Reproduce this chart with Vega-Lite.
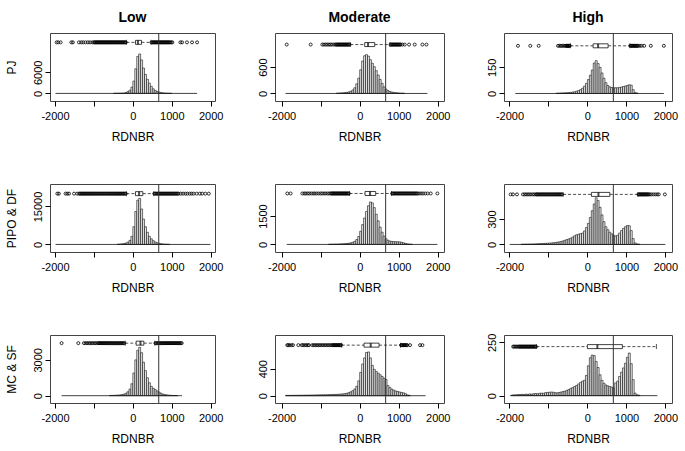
{
"$schema": "https://vega.github.io/schema/vega-lite/v6.json",
"padding": {"left": 4, "top": 10, "right": 5, "bottom": 5},
"background": "white",
"datasets": {
"s": [
{"g":"a","lo":-1985,"hi":1650,"wlo":-165,"q1":68,"med":130,"q3":222,"whi":465,"t":665},
{"g":"b","lo":-1900,"hi":1735,"wlo":-240,"q1":128,"med":214,"q3":385,"whi":775,"t":665},
{"g":"c","lo":-1850,"hi":1961,"wlo":-437,"q1":146,"med":274,"q3":531,"whi":1088,"t":665},
{"g":"d","lo":-1985,"hi":1990,"wlo":-165,"q1":68,"med":160,"q3":256,"whi":535,"t":665},
{"g":"e","lo":-1870,"hi":1990,"wlo":-260,"q1":137,"med":265,"q3":410,"whi":815,"t":665},
{"g":"f","lo":-1995,"hi":2000,"wlo":-625,"q1":103,"med":283,"q3":574,"whi":1295,"t":665},
{"g":"g","lo":-1830,"hi":1262,"wlo":-195,"q1":85,"med":196,"q3":282,"whi":563,"t":665},
{"g":"h","lo":-1900,"hi":1690,"wlo":-460,"q1":111,"med":282,"q3":496,"whi":1045,"t":665},
{"g":"i","lo":-1983,"hi":1795,"wlo":-1308,"q1":0,"med":256,"q3":897,"whi":1770,"t":665}
],
"h": [
{"g":"a","b":-500,"e":-450,"n":15},{"g":"a","b":-450,"e":-400,"n":25},{"g":"a","b":-400,"e":-350,"n":35},{"g":"a","b":-350,"e":-300,"n":50},{"g":"a","b":-300,"e":-250,"n":70},{"g":"a","b":-250,"e":-200,"n":100},{"g":"a","b":-200,"e":-150,"n":250},{"g":"a","b":-150,"e":-100,"n":500},{"g":"a","b":-100,"e":-50,"n":900},{"g":"a","b":-50,"e":0,"n":1800},{"g":"a","b":0,"e":50,"n":3500},{"g":"a","b":50,"e":100,"n":7000},{"g":"a","b":100,"e":150,"n":10500},{"g":"a","b":150,"e":200,"n":11200},{"g":"a","b":200,"e":250,"n":9500},{"g":"a","b":250,"e":300,"n":7200},{"g":"a","b":300,"e":350,"n":5400},{"g":"a","b":350,"e":400,"n":4000},{"g":"a","b":400,"e":450,"n":2900},{"g":"a","b":450,"e":500,"n":2000},{"g":"a","b":500,"e":550,"n":1300},{"g":"a","b":550,"e":600,"n":850},{"g":"a","b":600,"e":650,"n":550},{"g":"a","b":650,"e":700,"n":350},{"g":"a","b":700,"e":750,"n":220},{"g":"a","b":750,"e":800,"n":140},{"g":"a","b":800,"e":850,"n":90},{"g":"a","b":850,"e":900,"n":55},{"g":"a","b":900,"e":950,"n":35},{"g":"a","b":950,"e":1000,"n":20},
{"g":"b","b":-600,"e":-550,"n":8},{"g":"b","b":-550,"e":-500,"n":10},{"g":"b","b":-500,"e":-450,"n":12},{"g":"b","b":-450,"e":-400,"n":15},{"g":"b","b":-400,"e":-350,"n":20},{"g":"b","b":-350,"e":-300,"n":25},{"g":"b","b":-300,"e":-250,"n":35},{"g":"b","b":-250,"e":-200,"n":50},{"g":"b","b":-200,"e":-150,"n":80},{"g":"b","b":-150,"e":-100,"n":130},{"g":"b","b":-100,"e":-50,"n":220},{"g":"b","b":-50,"e":0,"n":350},{"g":"b","b":0,"e":50,"n":540},{"g":"b","b":50,"e":100,"n":740},{"g":"b","b":100,"e":150,"n":860},{"g":"b","b":150,"e":200,"n":885},{"g":"b","b":200,"e":250,"n":850},{"g":"b","b":250,"e":300,"n":770},{"g":"b","b":300,"e":350,"n":690},{"g":"b","b":350,"e":400,"n":610},{"g":"b","b":400,"e":450,"n":520},{"g":"b","b":450,"e":500,"n":420},{"g":"b","b":500,"e":550,"n":320},{"g":"b","b":550,"e":600,"n":230},{"g":"b","b":600,"e":650,"n":150},{"g":"b","b":650,"e":700,"n":100},{"g":"b","b":700,"e":750,"n":65},{"g":"b","b":750,"e":800,"n":45},{"g":"b","b":800,"e":850,"n":32},{"g":"b","b":850,"e":900,"n":24},{"g":"b","b":900,"e":950,"n":18},{"g":"b","b":950,"e":1000,"n":13},{"g":"b","b":1000,"e":1050,"n":10},{"g":"b","b":1050,"e":1100,"n":7},{"g":"b","b":1100,"e":1150,"n":5},
{"g":"c","b":-800,"e":-750,"n":2},{"g":"c","b":-750,"e":-700,"n":2},{"g":"c","b":-700,"e":-650,"n":3},{"g":"c","b":-650,"e":-600,"n":3},{"g":"c","b":-600,"e":-550,"n":4},{"g":"c","b":-550,"e":-500,"n":4},{"g":"c","b":-500,"e":-450,"n":5},{"g":"c","b":-450,"e":-400,"n":6},{"g":"c","b":-400,"e":-350,"n":8},{"g":"c","b":-350,"e":-300,"n":10},{"g":"c","b":-300,"e":-250,"n":13},{"g":"c","b":-250,"e":-200,"n":17},{"g":"c","b":-200,"e":-150,"n":22},{"g":"c","b":-150,"e":-100,"n":30},{"g":"c","b":-100,"e":-50,"n":42},{"g":"c","b":-50,"e":0,"n":58},{"g":"c","b":0,"e":50,"n":80},{"g":"c","b":50,"e":100,"n":105},{"g":"c","b":100,"e":150,"n":135},{"g":"c","b":150,"e":200,"n":175},{"g":"c","b":200,"e":250,"n":189},{"g":"c","b":250,"e":300,"n":172},{"g":"c","b":300,"e":350,"n":150},{"g":"c","b":350,"e":400,"n":118},{"g":"c","b":400,"e":450,"n":88},{"g":"c","b":450,"e":500,"n":62},{"g":"c","b":500,"e":550,"n":46},{"g":"c","b":550,"e":600,"n":38},{"g":"c","b":600,"e":650,"n":35},{"g":"c","b":650,"e":700,"n":33},{"g":"c","b":700,"e":750,"n":33},{"g":"c","b":750,"e":800,"n":33},{"g":"c","b":800,"e":850,"n":35},{"g":"c","b":850,"e":900,"n":37},{"g":"c","b":900,"e":950,"n":40},{"g":"c","b":950,"e":1000,"n":43},{"g":"c","b":1000,"e":1050,"n":46},{"g":"c","b":1050,"e":1100,"n":50},{"g":"c","b":1100,"e":1150,"n":48},{"g":"c","b":1150,"e":1200,"n":22},{"g":"c","b":1200,"e":1250,"n":6},{"g":"c","b":1250,"e":1300,"n":2},
{"g":"d","b":-400,"e":-350,"n":100},{"g":"d","b":-350,"e":-300,"n":150},{"g":"d","b":-300,"e":-250,"n":230},{"g":"d","b":-250,"e":-200,"n":350},{"g":"d","b":-200,"e":-150,"n":550},{"g":"d","b":-150,"e":-100,"n":900},{"g":"d","b":-100,"e":-50,"n":1600},{"g":"d","b":-50,"e":0,"n":3200},{"g":"d","b":0,"e":50,"n":7000},{"g":"d","b":50,"e":100,"n":13000},{"g":"d","b":100,"e":150,"n":17500},{"g":"d","b":150,"e":200,"n":18200},{"g":"d","b":200,"e":250,"n":14000},{"g":"d","b":250,"e":300,"n":10000},{"g":"d","b":300,"e":350,"n":7000},{"g":"d","b":350,"e":400,"n":4800},{"g":"d","b":400,"e":450,"n":3200},{"g":"d","b":450,"e":500,"n":2200},{"g":"d","b":500,"e":550,"n":1500},{"g":"d","b":550,"e":600,"n":1000},{"g":"d","b":600,"e":650,"n":650},{"g":"d","b":650,"e":700,"n":420},{"g":"d","b":700,"e":750,"n":280},{"g":"d","b":750,"e":800,"n":180},{"g":"d","b":800,"e":850,"n":120},{"g":"d","b":850,"e":900,"n":80},{"g":"d","b":900,"e":950,"n":50},
{"g":"e","b":-800,"e":-750,"n":10},{"g":"e","b":-750,"e":-700,"n":12},{"g":"e","b":-700,"e":-650,"n":14},{"g":"e","b":-650,"e":-600,"n":17},{"g":"e","b":-600,"e":-550,"n":20},{"g":"e","b":-550,"e":-500,"n":24},{"g":"e","b":-500,"e":-450,"n":28},{"g":"e","b":-450,"e":-400,"n":33},{"g":"e","b":-400,"e":-350,"n":40},{"g":"e","b":-350,"e":-300,"n":50},{"g":"e","b":-300,"e":-250,"n":65},{"g":"e","b":-250,"e":-200,"n":85},{"g":"e","b":-200,"e":-150,"n":115},{"g":"e","b":-150,"e":-100,"n":165},{"g":"e","b":-100,"e":-50,"n":260},{"g":"e","b":-50,"e":0,"n":420},{"g":"e","b":0,"e":50,"n":700},{"g":"e","b":50,"e":100,"n":1050},{"g":"e","b":100,"e":150,"n":1400},{"g":"e","b":150,"e":200,"n":1750},{"g":"e","b":200,"e":250,"n":2050},{"g":"e","b":250,"e":300,"n":2250},{"g":"e","b":300,"e":350,"n":2200},{"g":"e","b":350,"e":400,"n":1950},{"g":"e","b":400,"e":450,"n":1600},{"g":"e","b":450,"e":500,"n":1250},{"g":"e","b":500,"e":550,"n":920},{"g":"e","b":550,"e":600,"n":650},{"g":"e","b":600,"e":650,"n":440},{"g":"e","b":650,"e":700,"n":300},{"g":"e","b":700,"e":750,"n":220},{"g":"e","b":750,"e":800,"n":180},{"g":"e","b":800,"e":850,"n":160},{"g":"e","b":850,"e":900,"n":150},{"g":"e","b":900,"e":950,"n":145},{"g":"e","b":950,"e":1000,"n":140},{"g":"e","b":1000,"e":1050,"n":135},{"g":"e","b":1050,"e":1100,"n":115},{"g":"e","b":1100,"e":1150,"n":85},{"g":"e","b":1150,"e":1200,"n":55},{"g":"e","b":1200,"e":1250,"n":30},{"g":"e","b":1250,"e":1300,"n":18},{"g":"e","b":1300,"e":1350,"n":10},
{"g":"f","b":-1700,"e":-1650,"n":3},{"g":"f","b":-1650,"e":-1600,"n":3},{"g":"f","b":-1600,"e":-1550,"n":4},{"g":"f","b":-1550,"e":-1500,"n":4},{"g":"f","b":-1500,"e":-1450,"n":5},{"g":"f","b":-1450,"e":-1400,"n":5},{"g":"f","b":-1400,"e":-1350,"n":6},{"g":"f","b":-1350,"e":-1300,"n":7},{"g":"f","b":-1300,"e":-1250,"n":8},{"g":"f","b":-1250,"e":-1200,"n":10},{"g":"f","b":-1200,"e":-1150,"n":11},{"g":"f","b":-1150,"e":-1100,"n":12},{"g":"f","b":-1100,"e":-1050,"n":13},{"g":"f","b":-1050,"e":-1000,"n":14},{"g":"f","b":-1000,"e":-950,"n":16},{"g":"f","b":-950,"e":-900,"n":18},{"g":"f","b":-900,"e":-850,"n":20},{"g":"f","b":-850,"e":-800,"n":23},{"g":"f","b":-800,"e":-750,"n":27},{"g":"f","b":-750,"e":-700,"n":30},{"g":"f","b":-700,"e":-650,"n":35},{"g":"f","b":-650,"e":-600,"n":42},{"g":"f","b":-600,"e":-550,"n":50},{"g":"f","b":-550,"e":-500,"n":58},{"g":"f","b":-500,"e":-450,"n":66},{"g":"f","b":-450,"e":-400,"n":75},{"g":"f","b":-400,"e":-350,"n":88},{"g":"f","b":-350,"e":-300,"n":103},{"g":"f","b":-300,"e":-250,"n":115},{"g":"f","b":-250,"e":-200,"n":122},{"g":"f","b":-200,"e":-150,"n":128},{"g":"f","b":-150,"e":-100,"n":135},{"g":"f","b":-100,"e":-50,"n":160},{"g":"f","b":-50,"e":0,"n":200},{"g":"f","b":0,"e":50,"n":250},{"g":"f","b":50,"e":100,"n":320},{"g":"f","b":100,"e":150,"n":400},{"g":"f","b":150,"e":200,"n":480},{"g":"f","b":200,"e":250,"n":553},{"g":"f","b":250,"e":300,"n":520},{"g":"f","b":300,"e":350,"n":440},{"g":"f","b":350,"e":400,"n":350},{"g":"f","b":400,"e":450,"n":270},{"g":"f","b":450,"e":500,"n":210},{"g":"f","b":500,"e":550,"n":175},{"g":"f","b":550,"e":600,"n":145},{"g":"f","b":600,"e":650,"n":125},{"g":"f","b":650,"e":700,"n":110},{"g":"f","b":700,"e":750,"n":100},{"g":"f","b":750,"e":800,"n":110},{"g":"f","b":800,"e":850,"n":135},{"g":"f","b":850,"e":900,"n":165},{"g":"f","b":900,"e":950,"n":190},{"g":"f","b":950,"e":1000,"n":210},{"g":"f","b":1000,"e":1050,"n":225},{"g":"f","b":1050,"e":1100,"n":222},{"g":"f","b":1100,"e":1150,"n":165},{"g":"f","b":1150,"e":1200,"n":70},{"g":"f","b":1200,"e":1250,"n":18},{"g":"f","b":1250,"e":1300,"n":6},{"g":"f","b":1300,"e":1350,"n":3},
{"g":"g","b":-600,"e":-550,"n":20},{"g":"g","b":-550,"e":-500,"n":25},{"g":"g","b":-500,"e":-450,"n":30},{"g":"g","b":-450,"e":-400,"n":40},{"g":"g","b":-400,"e":-350,"n":50},{"g":"g","b":-350,"e":-300,"n":65},{"g":"g","b":-300,"e":-250,"n":90},{"g":"g","b":-250,"e":-200,"n":130},{"g":"g","b":-200,"e":-150,"n":200},{"g":"g","b":-150,"e":-100,"n":330},{"g":"g","b":-100,"e":-50,"n":550},{"g":"g","b":-50,"e":0,"n":1000},{"g":"g","b":0,"e":50,"n":1900},{"g":"g","b":50,"e":100,"n":3000},{"g":"g","b":100,"e":150,"n":3800},{"g":"g","b":150,"e":200,"n":4040},{"g":"g","b":200,"e":250,"n":3600},{"g":"g","b":250,"e":300,"n":2800},{"g":"g","b":300,"e":350,"n":2100},{"g":"g","b":350,"e":400,"n":1500},{"g":"g","b":400,"e":450,"n":1080},{"g":"g","b":450,"e":500,"n":780},{"g":"g","b":500,"e":550,"n":620},{"g":"g","b":550,"e":600,"n":510},{"g":"g","b":600,"e":650,"n":400},{"g":"g","b":650,"e":700,"n":300},{"g":"g","b":700,"e":750,"n":200},{"g":"g","b":750,"e":800,"n":130},{"g":"g","b":800,"e":850,"n":90},{"g":"g","b":850,"e":900,"n":65},{"g":"g","b":900,"e":950,"n":45},{"g":"g","b":950,"e":1000,"n":30},{"g":"g","b":1000,"e":1050,"n":20},{"g":"g","b":1050,"e":1100,"n":14},{"g":"g","b":1100,"e":1150,"n":10},
{"g":"h","b":-1900,"e":-1850,"n":4},{"g":"h","b":-1850,"e":-1800,"n":5},{"g":"h","b":-1800,"e":-1750,"n":4},{"g":"h","b":-1750,"e":-1700,"n":5},{"g":"h","b":-1700,"e":-1650,"n":6},{"g":"h","b":-1650,"e":-1600,"n":5},{"g":"h","b":-1600,"e":-1550,"n":6},{"g":"h","b":-1550,"e":-1500,"n":7},{"g":"h","b":-1500,"e":-1450,"n":6},{"g":"h","b":-1450,"e":-1400,"n":8},{"g":"h","b":-1400,"e":-1350,"n":9},{"g":"h","b":-1350,"e":-1300,"n":8},{"g":"h","b":-1300,"e":-1250,"n":9},{"g":"h","b":-1250,"e":-1200,"n":10},{"g":"h","b":-1200,"e":-1150,"n":10},{"g":"h","b":-1150,"e":-1100,"n":11},{"g":"h","b":-1100,"e":-1050,"n":12},{"g":"h","b":-1050,"e":-1000,"n":12},{"g":"h","b":-1000,"e":-950,"n":13},{"g":"h","b":-950,"e":-900,"n":14},{"g":"h","b":-900,"e":-850,"n":14},{"g":"h","b":-850,"e":-800,"n":15},{"g":"h","b":-800,"e":-750,"n":16},{"g":"h","b":-750,"e":-700,"n":17},{"g":"h","b":-700,"e":-650,"n":18},{"g":"h","b":-650,"e":-600,"n":19},{"g":"h","b":-600,"e":-550,"n":20},{"g":"h","b":-550,"e":-500,"n":22},{"g":"h","b":-500,"e":-450,"n":24},{"g":"h","b":-450,"e":-400,"n":27},{"g":"h","b":-400,"e":-350,"n":30},{"g":"h","b":-350,"e":-300,"n":36},{"g":"h","b":-300,"e":-250,"n":45},{"g":"h","b":-250,"e":-200,"n":58},{"g":"h","b":-200,"e":-150,"n":75},{"g":"h","b":-150,"e":-100,"n":100},{"g":"h","b":-100,"e":-50,"n":140},{"g":"h","b":-50,"e":0,"n":220},{"g":"h","b":0,"e":50,"n":345},{"g":"h","b":50,"e":100,"n":470},{"g":"h","b":100,"e":150,"n":560},{"g":"h","b":150,"e":200,"n":640},{"g":"h","b":200,"e":250,"n":648},{"g":"h","b":250,"e":300,"n":560},{"g":"h","b":300,"e":350,"n":450},{"g":"h","b":350,"e":400,"n":390},{"g":"h","b":400,"e":450,"n":360},{"g":"h","b":450,"e":500,"n":335},{"g":"h","b":500,"e":550,"n":310},{"g":"h","b":550,"e":600,"n":285},{"g":"h","b":600,"e":650,"n":260},{"g":"h","b":650,"e":700,"n":240},{"g":"h","b":700,"e":750,"n":150},{"g":"h","b":750,"e":800,"n":120},{"g":"h","b":800,"e":850,"n":97},{"g":"h","b":850,"e":900,"n":82},{"g":"h","b":900,"e":950,"n":70},{"g":"h","b":950,"e":1000,"n":62},{"g":"h","b":1000,"e":1050,"n":55},{"g":"h","b":1050,"e":1100,"n":48},{"g":"h","b":1100,"e":1150,"n":42},{"g":"h","b":1150,"e":1200,"n":30},{"g":"h","b":1200,"e":1250,"n":12},{"g":"h","b":1250,"e":1300,"n":4},
{"g":"i","b":-1950,"e":-1900,"n":3},{"g":"i","b":-1900,"e":-1850,"n":4},{"g":"i","b":-1850,"e":-1800,"n":4},{"g":"i","b":-1800,"e":-1750,"n":5},{"g":"i","b":-1750,"e":-1700,"n":5},{"g":"i","b":-1700,"e":-1650,"n":6},{"g":"i","b":-1650,"e":-1600,"n":5},{"g":"i","b":-1600,"e":-1550,"n":7},{"g":"i","b":-1550,"e":-1500,"n":6},{"g":"i","b":-1500,"e":-1450,"n":8},{"g":"i","b":-1450,"e":-1400,"n":7},{"g":"i","b":-1400,"e":-1350,"n":9},{"g":"i","b":-1350,"e":-1300,"n":10},{"g":"i","b":-1300,"e":-1250,"n":9},{"g":"i","b":-1250,"e":-1200,"n":11},{"g":"i","b":-1200,"e":-1150,"n":12},{"g":"i","b":-1150,"e":-1100,"n":11},{"g":"i","b":-1100,"e":-1050,"n":14},{"g":"i","b":-1050,"e":-1000,"n":15},{"g":"i","b":-1000,"e":-950,"n":16},{"g":"i","b":-950,"e":-900,"n":17},{"g":"i","b":-900,"e":-850,"n":16},{"g":"i","b":-850,"e":-800,"n":14},{"g":"i","b":-800,"e":-750,"n":13},{"g":"i","b":-750,"e":-700,"n":15},{"g":"i","b":-700,"e":-650,"n":17},{"g":"i","b":-650,"e":-600,"n":19},{"g":"i","b":-600,"e":-550,"n":21},{"g":"i","b":-550,"e":-500,"n":25},{"g":"i","b":-500,"e":-450,"n":29},{"g":"i","b":-450,"e":-400,"n":34},{"g":"i","b":-400,"e":-350,"n":38},{"g":"i","b":-350,"e":-300,"n":43},{"g":"i","b":-300,"e":-250,"n":48},{"g":"i","b":-250,"e":-200,"n":55},{"g":"i","b":-200,"e":-150,"n":62},{"g":"i","b":-150,"e":-100,"n":68},{"g":"i","b":-100,"e":-50,"n":72},{"g":"i","b":-50,"e":0,"n":95},{"g":"i","b":0,"e":50,"n":140},{"g":"i","b":50,"e":100,"n":178},{"g":"i","b":100,"e":150,"n":190},{"g":"i","b":150,"e":200,"n":188},{"g":"i","b":200,"e":250,"n":160},{"g":"i","b":250,"e":300,"n":132},{"g":"i","b":300,"e":350,"n":98},{"g":"i","b":350,"e":400,"n":72},{"g":"i","b":400,"e":450,"n":58},{"g":"i","b":450,"e":500,"n":50},{"g":"i","b":500,"e":550,"n":46},{"g":"i","b":550,"e":600,"n":43},{"g":"i","b":600,"e":650,"n":40},{"g":"i","b":650,"e":700,"n":36},{"g":"i","b":700,"e":750,"n":60},{"g":"i","b":750,"e":800,"n":68},{"g":"i","b":800,"e":850,"n":90},{"g":"i","b":850,"e":900,"n":110},{"g":"i","b":900,"e":950,"n":130},{"g":"i","b":950,"e":1000,"n":152},{"g":"i","b":1000,"e":1050,"n":180},{"g":"i","b":1050,"e":1100,"n":200},{"g":"i","b":1100,"e":1150,"n":150},{"g":"i","b":1150,"e":1200,"n":75},{"g":"i","b":1200,"e":1250,"n":12},{"g":"i","b":1250,"e":1300,"n":4},{"g":"i","b":1300,"e":1350,"n":2}
],
"o": [
{"g":"a","x":-1957},{"g":"a","x":-1915},{"g":"a","x":-1855},{"g":"a","x":-1580},{"g":"a","x":-1540},{"g":"a","x":-1385},{"g":"a","x":-1325},{"g":"a","x":-1275},{"g":"a","x":-1215},{"g":"a","x":-1155},{"g":"a","x":-1100},{"g":"a","x":-1040},{"g":"a","x":-1000},{"g":"a","x":-980},{"g":"a","x":-960},{"g":"a","x":-940},{"g":"a","x":-920},{"g":"a","x":-900},{"g":"a","x":-880},{"g":"a","x":-860},{"g":"a","x":-840},{"g":"a","x":-820},{"g":"a","x":-800},{"g":"a","x":-780},{"g":"a","x":-760},{"g":"a","x":-740},{"g":"a","x":-720},{"g":"a","x":-700},{"g":"a","x":-680},{"g":"a","x":-660},{"g":"a","x":-640},{"g":"a","x":-620},{"g":"a","x":-600},{"g":"a","x":-580},{"g":"a","x":-560},{"g":"a","x":-540},{"g":"a","x":-520},{"g":"a","x":-500},{"g":"a","x":-480},{"g":"a","x":-460},{"g":"a","x":-440},{"g":"a","x":-420},{"g":"a","x":-400},{"g":"a","x":-380},{"g":"a","x":-360},{"g":"a","x":-340},{"g":"a","x":-320},{"g":"a","x":-300},{"g":"a","x":-280},{"g":"a","x":-260},{"g":"a","x":-240},{"g":"a","x":-220},{"g":"a","x":-200},{"g":"a","x":-180},{"g":"a","x":480},{"g":"a","x":500},{"g":"a","x":520},{"g":"a","x":540},{"g":"a","x":560},{"g":"a","x":580},{"g":"a","x":600},{"g":"a","x":620},{"g":"a","x":640},{"g":"a","x":660},{"g":"a","x":680},{"g":"a","x":700},{"g":"a","x":720},{"g":"a","x":740},{"g":"a","x":760},{"g":"a","x":780},{"g":"a","x":800},{"g":"a","x":820},{"g":"a","x":840},{"g":"a","x":860},{"g":"a","x":880},{"g":"a","x":900},{"g":"a","x":920},{"g":"a","x":940},{"g":"a","x":960},{"g":"a","x":990},{"g":"a","x":1015},{"g":"a","x":1220},{"g":"a","x":1265},{"g":"a","x":1390},{"g":"a","x":1520},{"g":"a","x":1650},
{"g":"b","x":-1870},{"g":"b","x":-1256},{"g":"b","x":-957},{"g":"b","x":-915},{"g":"b","x":-870},{"g":"b","x":-830},{"g":"b","x":-790},{"g":"b","x":-750},{"g":"b","x":-710},{"g":"b","x":-660},{"g":"b","x":-620},{"g":"b","x":-600},{"g":"b","x":-580},{"g":"b","x":-560},{"g":"b","x":-540},{"g":"b","x":-520},{"g":"b","x":-500},{"g":"b","x":-480},{"g":"b","x":-460},{"g":"b","x":-440},{"g":"b","x":-420},{"g":"b","x":-400},{"g":"b","x":-380},{"g":"b","x":-360},{"g":"b","x":-340},{"g":"b","x":-320},{"g":"b","x":-300},{"g":"b","x":-280},{"g":"b","x":-260},{"g":"b","x":790},{"g":"b","x":810},{"g":"b","x":830},{"g":"b","x":850},{"g":"b","x":870},{"g":"b","x":890},{"g":"b","x":910},{"g":"b","x":930},{"g":"b","x":950},{"g":"b","x":970},{"g":"b","x":990},{"g":"b","x":1010},{"g":"b","x":1030},{"g":"b","x":1050},{"g":"b","x":1094},{"g":"b","x":1154},{"g":"b","x":1265},{"g":"b","x":1410},{"g":"b","x":1607},{"g":"b","x":1710},
{"g":"c","x":-1782},{"g":"c","x":-1465},{"g":"c","x":-1250},{"g":"c","x":-754},{"g":"c","x":-715},{"g":"c","x":-680},{"g":"c","x":-645},{"g":"c","x":-610},{"g":"c","x":-575},{"g":"c","x":-545},{"g":"c","x":-530},{"g":"c","x":-515},{"g":"c","x":-500},{"g":"c","x":-485},{"g":"c","x":-470},{"g":"c","x":-455},{"g":"c","x":1100},{"g":"c","x":1120},{"g":"c","x":1140},{"g":"c","x":1160},{"g":"c","x":1180},{"g":"c","x":1200},{"g":"c","x":1220},{"g":"c","x":1240},{"g":"c","x":1260},{"g":"c","x":1280},{"g":"c","x":1300},{"g":"c","x":1345},{"g":"c","x":1390},{"g":"c","x":1456},{"g":"c","x":1627},{"g":"c","x":1961},
{"g":"d","x":-1940},{"g":"d","x":-1900},{"g":"d","x":-1727},{"g":"d","x":-1685},{"g":"d","x":-1640},{"g":"d","x":-1510},{"g":"d","x":-1430},{"g":"d","x":-1380},{"g":"d","x":-1355},{"g":"d","x":-1330},{"g":"d","x":-1305},{"g":"d","x":-1280},{"g":"d","x":-1255},{"g":"d","x":-1230},{"g":"d","x":-1205},{"g":"d","x":-1180},{"g":"d","x":-1155},{"g":"d","x":-1130},{"g":"d","x":-1105},{"g":"d","x":-1080},{"g":"d","x":-1055},{"g":"d","x":-1030},{"g":"d","x":-1005},{"g":"d","x":-980},{"g":"d","x":-955},{"g":"d","x":-930},{"g":"d","x":-905},{"g":"d","x":-880},{"g":"d","x":-855},{"g":"d","x":-830},{"g":"d","x":-805},{"g":"d","x":-780},{"g":"d","x":-755},{"g":"d","x":-730},{"g":"d","x":-705},{"g":"d","x":-680},{"g":"d","x":-655},{"g":"d","x":-630},{"g":"d","x":-605},{"g":"d","x":-580},{"g":"d","x":-555},{"g":"d","x":-530},{"g":"d","x":-505},{"g":"d","x":-480},{"g":"d","x":-455},{"g":"d","x":-430},{"g":"d","x":-405},{"g":"d","x":-380},{"g":"d","x":-355},{"g":"d","x":-330},{"g":"d","x":-305},{"g":"d","x":-280},{"g":"d","x":-255},{"g":"d","x":-230},{"g":"d","x":-205},{"g":"d","x":-180},{"g":"d","x":550},{"g":"d","x":575},{"g":"d","x":600},{"g":"d","x":625},{"g":"d","x":650},{"g":"d","x":675},{"g":"d","x":700},{"g":"d","x":725},{"g":"d","x":750},{"g":"d","x":775},{"g":"d","x":800},{"g":"d","x":825},{"g":"d","x":850},{"g":"d","x":875},{"g":"d","x":900},{"g":"d","x":925},{"g":"d","x":950},{"g":"d","x":975},{"g":"d","x":1000},{"g":"d","x":1025},{"g":"d","x":1050},{"g":"d","x":1075},{"g":"d","x":1100},{"g":"d","x":1125},{"g":"d","x":1150},{"g":"d","x":1175},{"g":"d","x":1230},{"g":"d","x":1290},{"g":"d","x":1350},{"g":"d","x":1400},{"g":"d","x":1460},{"g":"d","x":1510},{"g":"d","x":1560},{"g":"d","x":1640},{"g":"d","x":1720},{"g":"d","x":1780},{"g":"d","x":1860},{"g":"d","x":1950},
{"g":"e","x":-1855},{"g":"e","x":-1770},{"g":"e","x":-1470},{"g":"e","x":-1420},{"g":"e","x":-1380},{"g":"e","x":-1330},{"g":"e","x":-1290},{"g":"e","x":-1240},{"g":"e","x":-1190},{"g":"e","x":-1150},{"g":"e","x":-1100},{"g":"e","x":-1050},{"g":"e","x":-1000},{"g":"e","x":-960},{"g":"e","x":-910},{"g":"e","x":-870},{"g":"e","x":-820},{"g":"e","x":-780},{"g":"e","x":-740},{"g":"e","x":-720},{"g":"e","x":-700},{"g":"e","x":-680},{"g":"e","x":-660},{"g":"e","x":-640},{"g":"e","x":-620},{"g":"e","x":-600},{"g":"e","x":-580},{"g":"e","x":-560},{"g":"e","x":-540},{"g":"e","x":-520},{"g":"e","x":-500},{"g":"e","x":-480},{"g":"e","x":-460},{"g":"e","x":-440},{"g":"e","x":-420},{"g":"e","x":-400},{"g":"e","x":-380},{"g":"e","x":-360},{"g":"e","x":-340},{"g":"e","x":-320},{"g":"e","x":-300},{"g":"e","x":-280},{"g":"e","x":830},{"g":"e","x":855},{"g":"e","x":880},{"g":"e","x":905},{"g":"e","x":930},{"g":"e","x":955},{"g":"e","x":980},{"g":"e","x":1005},{"g":"e","x":1030},{"g":"e","x":1055},{"g":"e","x":1080},{"g":"e","x":1105},{"g":"e","x":1130},{"g":"e","x":1155},{"g":"e","x":1180},{"g":"e","x":1205},{"g":"e","x":1230},{"g":"e","x":1255},{"g":"e","x":1280},{"g":"e","x":1305},{"g":"e","x":1330},{"g":"e","x":1355},{"g":"e","x":1380},{"g":"e","x":1405},{"g":"e","x":1430},{"g":"e","x":1455},{"g":"e","x":1480},{"g":"e","x":1520},{"g":"e","x":1570},{"g":"e","x":1620},{"g":"e","x":1680},{"g":"e","x":1740},{"g":"e","x":1820},{"g":"e","x":1990},
{"g":"f","x":-1970},{"g":"f","x":-1910},{"g":"f","x":-1807},{"g":"f","x":-1653},{"g":"f","x":-1610},{"g":"f","x":-1570},{"g":"f","x":-1530},{"g":"f","x":-1490},{"g":"f","x":-1450},{"g":"f","x":-1400},{"g":"f","x":-1360},{"g":"f","x":-1320},{"g":"f","x":-1300},{"g":"f","x":-1275},{"g":"f","x":-1250},{"g":"f","x":-1225},{"g":"f","x":-1200},{"g":"f","x":-1175},{"g":"f","x":-1150},{"g":"f","x":-1125},{"g":"f","x":-1100},{"g":"f","x":-1075},{"g":"f","x":-1050},{"g":"f","x":-1025},{"g":"f","x":-1000},{"g":"f","x":-975},{"g":"f","x":-950},{"g":"f","x":-925},{"g":"f","x":-900},{"g":"f","x":-875},{"g":"f","x":-850},{"g":"f","x":-825},{"g":"f","x":-800},{"g":"f","x":-775},{"g":"f","x":-750},{"g":"f","x":-725},{"g":"f","x":-700},{"g":"f","x":-675},{"g":"f","x":-650},{"g":"f","x":1310},{"g":"f","x":1330},{"g":"f","x":1350},{"g":"f","x":1370},{"g":"f","x":1390},{"g":"f","x":1410},{"g":"f","x":1430},{"g":"f","x":1450},{"g":"f","x":1470},{"g":"f","x":1490},{"g":"f","x":1510},{"g":"f","x":1530},{"g":"f","x":1550},{"g":"f","x":1570},{"g":"f","x":1600},{"g":"f","x":1640},{"g":"f","x":1690},{"g":"f","x":1740},{"g":"f","x":1790},{"g":"f","x":1830},{"g":"f","x":1987},
{"g":"g","x":-1830},{"g":"g","x":-1400},{"g":"g","x":-1256},{"g":"g","x":-1215},{"g":"g","x":-1175},{"g":"g","x":-1135},{"g":"g","x":-1095},{"g":"g","x":-1055},{"g":"g","x":-1015},{"g":"g","x":-975},{"g":"g","x":-935},{"g":"g","x":-895},{"g":"g","x":-870},{"g":"g","x":-845},{"g":"g","x":-820},{"g":"g","x":-795},{"g":"g","x":-770},{"g":"g","x":-745},{"g":"g","x":-720},{"g":"g","x":-695},{"g":"g","x":-670},{"g":"g","x":-645},{"g":"g","x":-620},{"g":"g","x":-595},{"g":"g","x":-570},{"g":"g","x":-545},{"g":"g","x":-520},{"g":"g","x":-495},{"g":"g","x":-470},{"g":"g","x":-445},{"g":"g","x":-420},{"g":"g","x":-395},{"g":"g","x":-370},{"g":"g","x":-345},{"g":"g","x":-320},{"g":"g","x":-295},{"g":"g","x":-270},{"g":"g","x":-245},{"g":"g","x":-220},{"g":"g","x":580},{"g":"g","x":605},{"g":"g","x":630},{"g":"g","x":655},{"g":"g","x":680},{"g":"g","x":705},{"g":"g","x":730},{"g":"g","x":755},{"g":"g","x":780},{"g":"g","x":805},{"g":"g","x":830},{"g":"g","x":855},{"g":"g","x":880},{"g":"g","x":905},{"g":"g","x":930},{"g":"g","x":955},{"g":"g","x":980},{"g":"g","x":1005},{"g":"g","x":1030},{"g":"g","x":1055},{"g":"g","x":1080},{"g":"g","x":1105},{"g":"g","x":1130},{"g":"g","x":1155},{"g":"g","x":1180},{"g":"g","x":1205},{"g":"g","x":1230},{"g":"g","x":1255},
{"g":"h","x":-1855},{"g":"h","x":-1830},{"g":"h","x":-1800},{"g":"h","x":-1750},{"g":"h","x":-1710},{"g":"h","x":-1573},{"g":"h","x":-1487},{"g":"h","x":-1450},{"g":"h","x":-1410},{"g":"h","x":-1370},{"g":"h","x":-1330},{"g":"h","x":-1300},{"g":"h","x":-1214},{"g":"h","x":-1175},{"g":"h","x":-1135},{"g":"h","x":-1095},{"g":"h","x":-1055},{"g":"h","x":-1015},{"g":"h","x":-975},{"g":"h","x":-935},{"g":"h","x":-895},{"g":"h","x":-855},{"g":"h","x":-815},{"g":"h","x":-775},{"g":"h","x":-735},{"g":"h","x":-700},{"g":"h","x":-680},{"g":"h","x":-660},{"g":"h","x":-640},{"g":"h","x":-620},{"g":"h","x":-600},{"g":"h","x":-580},{"g":"h","x":-560},{"g":"h","x":-540},{"g":"h","x":-520},{"g":"h","x":-500},{"g":"h","x":-480},{"g":"h","x":1060},{"g":"h","x":1080},{"g":"h","x":1100},{"g":"h","x":1120},{"g":"h","x":1140},{"g":"h","x":1160},{"g":"h","x":1180},{"g":"h","x":1200},{"g":"h","x":1220},{"g":"h","x":1290},{"g":"h","x":1547},{"g":"h","x":1607},
{"g":"i","x":-1906},{"g":"i","x":-1880},{"g":"i","x":-1850},{"g":"i","x":-1820},{"g":"i","x":-1790},{"g":"i","x":-1760},{"g":"i","x":-1740},{"g":"i","x":-1720},{"g":"i","x":-1700},{"g":"i","x":-1680},{"g":"i","x":-1660},{"g":"i","x":-1640},{"g":"i","x":-1620},{"g":"i","x":-1600},{"g":"i","x":-1580},{"g":"i","x":-1560},{"g":"i","x":-1540},{"g":"i","x":-1520},{"g":"i","x":-1500},{"g":"i","x":-1480},{"g":"i","x":-1460},{"g":"i","x":-1440},{"g":"i","x":-1420},{"g":"i","x":-1400},{"g":"i","x":-1380},{"g":"i","x":-1360},{"g":"i","x":-1340},{"g":"i","x":-1320}
]
},
"config": {
"font": "Liberation Sans",
"view": {"stroke": "#444", "strokeWidth": 1},
"axis": {"grid": false, "domain": false, "tickColor": "#000", "tickSize": 5, "tickWidth": 1, "labelColor": "#000", "labelFontSize": 11, "labelFont": "Liberation Sans", "titleFont": "Liberation Sans", "titleFontSize": 12, "titleFontWeight": "normal", "titleColor": "#000", "labelOverlap": false, "labelFlush": false, "labelBound": false},
"axisX": {"labelPadding": 4, "titlePadding": 10},
"axisY": {"labelAngle": 270, "labelAlign": "center", "labelBaseline": "bottom", "labelPadding": 2, "titlePadding": 14},
"title": {"fontSize": 14, "fontWeight": "bold", "font": "Liberation Sans", "color": "#000", "anchor": "middle", "frame": "group", "offset": 8}
},
"spacing": 151,
"bounds": "flush",
"vconcat": [
{"hconcat": [
{"width": 165, "height": 68, "title": {"text": "Low"}, "layer": [
{"data":{"name":"h"},"transform":[{"filter":"datum.g=='a'"}],"mark":{"type":"rect","fill":"#e6e6e6","stroke":"#111","strokeWidth":0.6},"encoding":{"x":{"field":"b","type":"quantitative","scale":{"domain":[-2128,2110],"nice":false,"zero":false},"axis":{"values":[-2000,-1000,0,1000,2000],"labelExpr":"datum.value==-1000?'':''+datum.value","title":"RDNBR"}},"x2":{"field":"e"},"y":{"field":"n","type":"quantitative","scale":{"domain":[-738,15737],"nice":false,"zero":false},"axis":{"values":[0,6000],"labelExpr":"''+datum.value","title":"PJ"}},"y2":{"datum":0}}},
{"data":{"name":"s"},"transform":[{"filter":"datum.g=='a'"}],"mark":{"type":"rule","color":"#111","strokeWidth":0.8},"encoding":{"x":{"field":"lo","type":"quantitative"},"x2":{"field":"hi"},"y":{"datum":0}}},
{"data":{"name":"s"},"transform":[{"filter":"datum.g=='a'"}],"mark":{"type":"rule","color":"#222","strokeWidth":0.8,"strokeDash":[3,2]},"encoding":{"x":{"field":"wlo","type":"quantitative"},"x2":{"field":"q1"},"y":{"datum":14500}}},
{"data":{"name":"s"},"transform":[{"filter":"datum.g=='a'"}],"mark":{"type":"rule","color":"#222","strokeWidth":0.8,"strokeDash":[3,2]},"encoding":{"x":{"field":"q3","type":"quantitative"},"x2":{"field":"whi"},"y":{"datum":14500}}},
{"data":{"name":"s"},"transform":[{"filter":"datum.g=='a'"},{"fold":["wlo","whi"],"as":["k","w"]}],"mark":{"type":"tick","orient":"vertical","size":5,"thickness":1,"color":"#111"},"encoding":{"x":{"field":"w","type":"quantitative"},"y":{"datum":14500}}},
{"data":{"name":"o"},"transform":[{"filter":"datum.g=='a'"}],"mark":{"type":"point","shape":"circle","filled":false,"size":9,"strokeWidth":0.8,"color":"#000","opacity":1},"encoding":{"x":{"field":"x","type":"quantitative"},"y":{"datum":14500}}},
{"data":{"name":"s"},"transform":[{"filter":"datum.g=='a'"}],"mark":{"type":"bar","size":4,"fill":"white","stroke":"#111","strokeWidth":0.8},"encoding":{"x":{"field":"q1","type":"quantitative"},"x2":{"field":"q3"},"y":{"datum":14500}}},
{"data":{"name":"s"},"transform":[{"filter":"datum.g=='a'"}],"mark":{"type":"tick","orient":"vertical","size":4,"thickness":2,"color":"#000"},"encoding":{"x":{"field":"med","type":"quantitative"},"y":{"datum":14500}}},
{"data":{"name":"s"},"transform":[{"filter":"datum.g=='a'"}],"mark":{"type":"rule","color":"#333","strokeWidth":1},"encoding":{"x":{"field":"t","type":"quantitative"}}}
]},
{"width": 169, "height": 68, "title": {"text": "Moderate"}, "layer": [
{"data":{"name":"h"},"transform":[{"filter":"datum.g=='b'"}],"mark":{"type":"rect","fill":"#e6e6e6","stroke":"#111","strokeWidth":0.6},"encoding":{"x":{"field":"b","type":"quantitative","scale":{"domain":[-2170,2160],"nice":false,"zero":false},"axis":{"values":[-2000,-1000,0,1000,2000],"labelExpr":"datum.value==-1000?'':''+datum.value","title":"RDNBR"}},"x2":{"field":"e"},"y":{"field":"n","type":"quantitative","scale":{"domain":[-58,1265],"nice":false,"zero":false},"axis":{"values":[0,600],"labelExpr":"''+datum.value","title":null}},"y2":{"datum":0}}},
{"data":{"name":"s"},"transform":[{"filter":"datum.g=='b'"}],"mark":{"type":"rule","color":"#111","strokeWidth":0.8},"encoding":{"x":{"field":"lo","type":"quantitative"},"x2":{"field":"hi"},"y":{"datum":0}}},
{"data":{"name":"s"},"transform":[{"filter":"datum.g=='b'"}],"mark":{"type":"rule","color":"#222","strokeWidth":0.8,"strokeDash":[3,2]},"encoding":{"x":{"field":"wlo","type":"quantitative"},"x2":{"field":"q1"},"y":{"datum":1115}}},
{"data":{"name":"s"},"transform":[{"filter":"datum.g=='b'"}],"mark":{"type":"rule","color":"#222","strokeWidth":0.8,"strokeDash":[3,2]},"encoding":{"x":{"field":"q3","type":"quantitative"},"x2":{"field":"whi"},"y":{"datum":1115}}},
{"data":{"name":"s"},"transform":[{"filter":"datum.g=='b'"},{"fold":["wlo","whi"],"as":["k","w"]}],"mark":{"type":"tick","orient":"vertical","size":5,"thickness":1,"color":"#111"},"encoding":{"x":{"field":"w","type":"quantitative"},"y":{"datum":1115}}},
{"data":{"name":"o"},"transform":[{"filter":"datum.g=='b'"}],"mark":{"type":"point","shape":"circle","filled":false,"size":9,"strokeWidth":0.8,"color":"#000","opacity":1},"encoding":{"x":{"field":"x","type":"quantitative"},"y":{"datum":1115}}},
{"data":{"name":"s"},"transform":[{"filter":"datum.g=='b'"}],"mark":{"type":"bar","size":4,"fill":"white","stroke":"#111","strokeWidth":0.8},"encoding":{"x":{"field":"q1","type":"quantitative"},"x2":{"field":"q3"},"y":{"datum":1115}}},
{"data":{"name":"s"},"transform":[{"filter":"datum.g=='b'"}],"mark":{"type":"tick","orient":"vertical","size":4,"thickness":2,"color":"#000"},"encoding":{"x":{"field":"med","type":"quantitative"},"y":{"datum":1115}}},
{"data":{"name":"s"},"transform":[{"filter":"datum.g=='b'"}],"mark":{"type":"rule","color":"#333","strokeWidth":1},"encoding":{"x":{"field":"t","type":"quantitative"}}}
]},
{"width": 168, "height": 68, "title": {"text": "High"}, "layer": [
{"data":{"name":"h"},"transform":[{"filter":"datum.g=='c'"}],"mark":{"type":"rect","fill":"#e6e6e6","stroke":"#111","strokeWidth":0.6},"encoding":{"x":{"field":"b","type":"quantitative","scale":{"domain":[-2140,2170],"nice":false,"zero":false},"axis":{"values":[-2000,-1000,0,1000,2000],"labelExpr":"datum.value==-1000?'':''+datum.value","title":"RDNBR"}},"x2":{"field":"e"},"y":{"field":"n","type":"quantitative","scale":{"domain":[-14.5,319],"nice":false,"zero":false},"axis":{"values":[0,150],"labelExpr":"''+datum.value","title":null}},"y2":{"datum":0}}},
{"data":{"name":"s"},"transform":[{"filter":"datum.g=='c'"}],"mark":{"type":"rule","color":"#111","strokeWidth":0.8},"encoding":{"x":{"field":"lo","type":"quantitative"},"x2":{"field":"hi"},"y":{"datum":0}}},
{"data":{"name":"s"},"transform":[{"filter":"datum.g=='c'"}],"mark":{"type":"rule","color":"#222","strokeWidth":0.8,"strokeDash":[3,2]},"encoding":{"x":{"field":"wlo","type":"quantitative"},"x2":{"field":"q1"},"y":{"datum":274}}},
{"data":{"name":"s"},"transform":[{"filter":"datum.g=='c'"}],"mark":{"type":"rule","color":"#222","strokeWidth":0.8,"strokeDash":[3,2]},"encoding":{"x":{"field":"q3","type":"quantitative"},"x2":{"field":"whi"},"y":{"datum":274}}},
{"data":{"name":"s"},"transform":[{"filter":"datum.g=='c'"},{"fold":["wlo","whi"],"as":["k","w"]}],"mark":{"type":"tick","orient":"vertical","size":5,"thickness":1,"color":"#111"},"encoding":{"x":{"field":"w","type":"quantitative"},"y":{"datum":274}}},
{"data":{"name":"o"},"transform":[{"filter":"datum.g=='c'"}],"mark":{"type":"point","shape":"circle","filled":false,"size":9,"strokeWidth":0.8,"color":"#000","opacity":1},"encoding":{"x":{"field":"x","type":"quantitative"},"y":{"datum":274}}},
{"data":{"name":"s"},"transform":[{"filter":"datum.g=='c'"}],"mark":{"type":"bar","size":4,"fill":"white","stroke":"#111","strokeWidth":0.8},"encoding":{"x":{"field":"q1","type":"quantitative"},"x2":{"field":"q3"},"y":{"datum":274}}},
{"data":{"name":"s"},"transform":[{"filter":"datum.g=='c'"}],"mark":{"type":"tick","orient":"vertical","size":4,"thickness":2,"color":"#000"},"encoding":{"x":{"field":"med","type":"quantitative"},"y":{"datum":274}}},
{"data":{"name":"s"},"transform":[{"filter":"datum.g=='c'"}],"mark":{"type":"rule","color":"#333","strokeWidth":1},"encoding":{"x":{"field":"t","type":"quantitative"}}}
]}
], "spacing": 60, "bounds": "flush"},
{"hconcat": [
{"width": 165, "height": 68, "layer": [
{"data":{"name":"h"},"transform":[{"filter":"datum.g=='d'"}],"mark":{"type":"rect","fill":"#e6e6e6","stroke":"#111","strokeWidth":0.6},"encoding":{"x":{"field":"b","type":"quantitative","scale":{"domain":[-2128,2110],"nice":false,"zero":false},"axis":{"values":[-2000,-1000,0,1000,2000],"labelExpr":"datum.value==-1000?'':''+datum.value","title":"RDNBR"}},"x2":{"field":"e"},"y":{"field":"n","type":"quantitative","scale":{"domain":[-1011,21910],"nice":false,"zero":false},"axis":{"values":[0,15000],"labelExpr":"''+datum.value","title":"PIPO & DF"}},"y2":{"datum":0}}},
{"data":{"name":"s"},"transform":[{"filter":"datum.g=='d'"}],"mark":{"type":"rule","color":"#111","strokeWidth":0.8},"encoding":{"x":{"field":"lo","type":"quantitative"},"x2":{"field":"hi"},"y":{"datum":0}}},
{"data":{"name":"s"},"transform":[{"filter":"datum.g=='d'"}],"mark":{"type":"rule","color":"#222","strokeWidth":0.8,"strokeDash":[3,2]},"encoding":{"x":{"field":"wlo","type":"quantitative"},"x2":{"field":"q1"},"y":{"datum":20080}}},
{"data":{"name":"s"},"transform":[{"filter":"datum.g=='d'"}],"mark":{"type":"rule","color":"#222","strokeWidth":0.8,"strokeDash":[3,2]},"encoding":{"x":{"field":"q3","type":"quantitative"},"x2":{"field":"whi"},"y":{"datum":20080}}},
{"data":{"name":"s"},"transform":[{"filter":"datum.g=='d'"},{"fold":["wlo","whi"],"as":["k","w"]}],"mark":{"type":"tick","orient":"vertical","size":5,"thickness":1,"color":"#111"},"encoding":{"x":{"field":"w","type":"quantitative"},"y":{"datum":20080}}},
{"data":{"name":"o"},"transform":[{"filter":"datum.g=='d'"}],"mark":{"type":"point","shape":"circle","filled":false,"size":9,"strokeWidth":0.8,"color":"#000","opacity":1},"encoding":{"x":{"field":"x","type":"quantitative"},"y":{"datum":20080}}},
{"data":{"name":"s"},"transform":[{"filter":"datum.g=='d'"}],"mark":{"type":"bar","size":4,"fill":"white","stroke":"#111","strokeWidth":0.8},"encoding":{"x":{"field":"q1","type":"quantitative"},"x2":{"field":"q3"},"y":{"datum":20080}}},
{"data":{"name":"s"},"transform":[{"filter":"datum.g=='d'"}],"mark":{"type":"tick","orient":"vertical","size":4,"thickness":2,"color":"#000"},"encoding":{"x":{"field":"med","type":"quantitative"},"y":{"datum":20080}}},
{"data":{"name":"s"},"transform":[{"filter":"datum.g=='d'"}],"mark":{"type":"rule","color":"#333","strokeWidth":1},"encoding":{"x":{"field":"t","type":"quantitative"}}}
]},
{"width": 169, "height": 68, "layer": [
{"data":{"name":"h"},"transform":[{"filter":"datum.g=='e'"}],"mark":{"type":"rect","fill":"#e6e6e6","stroke":"#111","strokeWidth":0.6},"encoding":{"x":{"field":"b","type":"quantitative","scale":{"domain":[-2170,2160],"nice":false,"zero":false},"axis":{"values":[-2000,-1000,0,1000,2000],"labelExpr":"datum.value==-1000?'':''+datum.value","title":"RDNBR"}},"x2":{"field":"e"},"y":{"field":"n","type":"quantitative","scale":{"domain":[-136,2937],"nice":false,"zero":false},"axis":{"values":[0,1500],"labelExpr":"''+datum.value","title":null}},"y2":{"datum":0}}},
{"data":{"name":"s"},"transform":[{"filter":"datum.g=='e'"}],"mark":{"type":"rule","color":"#111","strokeWidth":0.8},"encoding":{"x":{"field":"lo","type":"quantitative"},"x2":{"field":"hi"},"y":{"datum":0}}},
{"data":{"name":"s"},"transform":[{"filter":"datum.g=='e'"}],"mark":{"type":"rule","color":"#222","strokeWidth":0.8,"strokeDash":[3,2]},"encoding":{"x":{"field":"wlo","type":"quantitative"},"x2":{"field":"q1"},"y":{"datum":2700}}},
{"data":{"name":"s"},"transform":[{"filter":"datum.g=='e'"}],"mark":{"type":"rule","color":"#222","strokeWidth":0.8,"strokeDash":[3,2]},"encoding":{"x":{"field":"q3","type":"quantitative"},"x2":{"field":"whi"},"y":{"datum":2700}}},
{"data":{"name":"s"},"transform":[{"filter":"datum.g=='e'"},{"fold":["wlo","whi"],"as":["k","w"]}],"mark":{"type":"tick","orient":"vertical","size":5,"thickness":1,"color":"#111"},"encoding":{"x":{"field":"w","type":"quantitative"},"y":{"datum":2700}}},
{"data":{"name":"o"},"transform":[{"filter":"datum.g=='e'"}],"mark":{"type":"point","shape":"circle","filled":false,"size":9,"strokeWidth":0.8,"color":"#000","opacity":1},"encoding":{"x":{"field":"x","type":"quantitative"},"y":{"datum":2700}}},
{"data":{"name":"s"},"transform":[{"filter":"datum.g=='e'"}],"mark":{"type":"bar","size":4,"fill":"white","stroke":"#111","strokeWidth":0.8},"encoding":{"x":{"field":"q1","type":"quantitative"},"x2":{"field":"q3"},"y":{"datum":2700}}},
{"data":{"name":"s"},"transform":[{"filter":"datum.g=='e'"}],"mark":{"type":"tick","orient":"vertical","size":4,"thickness":2,"color":"#000"},"encoding":{"x":{"field":"med","type":"quantitative"},"y":{"datum":2700}}},
{"data":{"name":"s"},"transform":[{"filter":"datum.g=='e'"}],"mark":{"type":"rule","color":"#333","strokeWidth":1},"encoding":{"x":{"field":"t","type":"quantitative"}}}
]},
{"width": 168, "height": 68, "layer": [
{"data":{"name":"h"},"transform":[{"filter":"datum.g=='f'"}],"mark":{"type":"rect","fill":"#e6e6e6","stroke":"#111","strokeWidth":0.6},"encoding":{"x":{"field":"b","type":"quantitative","scale":{"domain":[-2140,2170],"nice":false,"zero":false},"axis":{"values":[-2000,-1000,0,1000,2000],"labelExpr":"datum.value==-1000?'':''+datum.value","title":"RDNBR"}},"x2":{"field":"e"},"y":{"field":"n","type":"quantitative","scale":{"domain":[-30,657],"nice":false,"zero":false},"axis":{"values":[0,300],"labelExpr":"''+datum.value","title":null}},"y2":{"datum":0}}},
{"data":{"name":"s"},"transform":[{"filter":"datum.g=='f'"}],"mark":{"type":"rule","color":"#111","strokeWidth":0.8},"encoding":{"x":{"field":"lo","type":"quantitative"},"x2":{"field":"hi"},"y":{"datum":0}}},
{"data":{"name":"s"},"transform":[{"filter":"datum.g=='f'"}],"mark":{"type":"rule","color":"#222","strokeWidth":0.8,"strokeDash":[3,2]},"encoding":{"x":{"field":"wlo","type":"quantitative"},"x2":{"field":"q1"},"y":{"datum":593}}},
{"data":{"name":"s"},"transform":[{"filter":"datum.g=='f'"}],"mark":{"type":"rule","color":"#222","strokeWidth":0.8,"strokeDash":[3,2]},"encoding":{"x":{"field":"q3","type":"quantitative"},"x2":{"field":"whi"},"y":{"datum":593}}},
{"data":{"name":"s"},"transform":[{"filter":"datum.g=='f'"},{"fold":["wlo","whi"],"as":["k","w"]}],"mark":{"type":"tick","orient":"vertical","size":5,"thickness":1,"color":"#111"},"encoding":{"x":{"field":"w","type":"quantitative"},"y":{"datum":593}}},
{"data":{"name":"o"},"transform":[{"filter":"datum.g=='f'"}],"mark":{"type":"point","shape":"circle","filled":false,"size":9,"strokeWidth":0.8,"color":"#000","opacity":1},"encoding":{"x":{"field":"x","type":"quantitative"},"y":{"datum":593}}},
{"data":{"name":"s"},"transform":[{"filter":"datum.g=='f'"}],"mark":{"type":"bar","size":4,"fill":"white","stroke":"#111","strokeWidth":0.8},"encoding":{"x":{"field":"q1","type":"quantitative"},"x2":{"field":"q3"},"y":{"datum":593}}},
{"data":{"name":"s"},"transform":[{"filter":"datum.g=='f'"}],"mark":{"type":"tick","orient":"vertical","size":4,"thickness":2,"color":"#000"},"encoding":{"x":{"field":"med","type":"quantitative"},"y":{"datum":593}}},
{"data":{"name":"s"},"transform":[{"filter":"datum.g=='f'"}],"mark":{"type":"rule","color":"#333","strokeWidth":1},"encoding":{"x":{"field":"t","type":"quantitative"}}}
]}
], "spacing": 60, "bounds": "flush"},
{"hconcat": [
{"width": 165, "height": 68, "layer": [
{"data":{"name":"h"},"transform":[{"filter":"datum.g=='g'"}],"mark":{"type":"rect","fill":"#e6e6e6","stroke":"#111","strokeWidth":0.6},"encoding":{"x":{"field":"b","type":"quantitative","scale":{"domain":[-2128,2110],"nice":false,"zero":false},"axis":{"values":[-2000,-1000,0,1000,2000],"labelExpr":"datum.value==-1000?'':''+datum.value","title":"RDNBR"}},"x2":{"field":"e"},"y":{"field":"n","type":"quantitative","scale":{"domain":[-193,4664],"nice":false,"zero":false},"axis":{"values":[0,3000],"labelExpr":"''+datum.value","title":"MC & SF"}},"y2":{"datum":0}}},
{"data":{"name":"s"},"transform":[{"filter":"datum.g=='g'"}],"mark":{"type":"rule","color":"#111","strokeWidth":0.8},"encoding":{"x":{"field":"lo","type":"quantitative"},"x2":{"field":"hi"},"y":{"datum":0}}},
{"data":{"name":"s"},"transform":[{"filter":"datum.g=='g'"}],"mark":{"type":"rule","color":"#222","strokeWidth":0.8,"strokeDash":[3,2]},"encoding":{"x":{"field":"wlo","type":"quantitative"},"x2":{"field":"q1"},"y":{"datum":4400}}},
{"data":{"name":"s"},"transform":[{"filter":"datum.g=='g'"}],"mark":{"type":"rule","color":"#222","strokeWidth":0.8,"strokeDash":[3,2]},"encoding":{"x":{"field":"q3","type":"quantitative"},"x2":{"field":"whi"},"y":{"datum":4400}}},
{"data":{"name":"s"},"transform":[{"filter":"datum.g=='g'"},{"fold":["wlo","whi"],"as":["k","w"]}],"mark":{"type":"tick","orient":"vertical","size":5,"thickness":1,"color":"#111"},"encoding":{"x":{"field":"w","type":"quantitative"},"y":{"datum":4400}}},
{"data":{"name":"o"},"transform":[{"filter":"datum.g=='g'"}],"mark":{"type":"point","shape":"circle","filled":false,"size":9,"strokeWidth":0.8,"color":"#000","opacity":1},"encoding":{"x":{"field":"x","type":"quantitative"},"y":{"datum":4400}}},
{"data":{"name":"s"},"transform":[{"filter":"datum.g=='g'"}],"mark":{"type":"bar","size":4,"fill":"white","stroke":"#111","strokeWidth":0.8},"encoding":{"x":{"field":"q1","type":"quantitative"},"x2":{"field":"q3"},"y":{"datum":4400}}},
{"data":{"name":"s"},"transform":[{"filter":"datum.g=='g'"}],"mark":{"type":"tick","orient":"vertical","size":4,"thickness":2,"color":"#000"},"encoding":{"x":{"field":"med","type":"quantitative"},"y":{"datum":4400}}},
{"data":{"name":"s"},"transform":[{"filter":"datum.g=='g'"}],"mark":{"type":"rule","color":"#333","strokeWidth":1},"encoding":{"x":{"field":"t","type":"quantitative"}}}
]},
{"width": 169, "height": 68, "layer": [
{"data":{"name":"h"},"transform":[{"filter":"datum.g=='h'"}],"mark":{"type":"rect","fill":"#e6e6e6","stroke":"#111","strokeWidth":0.6},"encoding":{"x":{"field":"b","type":"quantitative","scale":{"domain":[-2170,2160],"nice":false,"zero":false},"axis":{"values":[-2000,-1000,0,1000,2000],"labelExpr":"datum.value==-1000?'':''+datum.value","title":"RDNBR"}},"x2":{"field":"e"},"y":{"field":"n","type":"quantitative","scale":{"domain":[-34,825],"nice":false,"zero":false},"axis":{"values":[0,400],"labelExpr":"''+datum.value","title":null}},"y2":{"datum":0}}},
{"data":{"name":"s"},"transform":[{"filter":"datum.g=='h'"}],"mark":{"type":"rule","color":"#111","strokeWidth":0.8},"encoding":{"x":{"field":"lo","type":"quantitative"},"x2":{"field":"hi"},"y":{"datum":0}}},
{"data":{"name":"s"},"transform":[{"filter":"datum.g=='h'"}],"mark":{"type":"rule","color":"#222","strokeWidth":0.8,"strokeDash":[3,2]},"encoding":{"x":{"field":"wlo","type":"quantitative"},"x2":{"field":"q1"},"y":{"datum":749}}},
{"data":{"name":"s"},"transform":[{"filter":"datum.g=='h'"}],"mark":{"type":"rule","color":"#222","strokeWidth":0.8,"strokeDash":[3,2]},"encoding":{"x":{"field":"q3","type":"quantitative"},"x2":{"field":"whi"},"y":{"datum":749}}},
{"data":{"name":"s"},"transform":[{"filter":"datum.g=='h'"},{"fold":["wlo","whi"],"as":["k","w"]}],"mark":{"type":"tick","orient":"vertical","size":5,"thickness":1,"color":"#111"},"encoding":{"x":{"field":"w","type":"quantitative"},"y":{"datum":749}}},
{"data":{"name":"o"},"transform":[{"filter":"datum.g=='h'"}],"mark":{"type":"point","shape":"circle","filled":false,"size":9,"strokeWidth":0.8,"color":"#000","opacity":1},"encoding":{"x":{"field":"x","type":"quantitative"},"y":{"datum":749}}},
{"data":{"name":"s"},"transform":[{"filter":"datum.g=='h'"}],"mark":{"type":"bar","size":4,"fill":"white","stroke":"#111","strokeWidth":0.8},"encoding":{"x":{"field":"q1","type":"quantitative"},"x2":{"field":"q3"},"y":{"datum":749}}},
{"data":{"name":"s"},"transform":[{"filter":"datum.g=='h'"}],"mark":{"type":"tick","orient":"vertical","size":4,"thickness":2,"color":"#000"},"encoding":{"x":{"field":"med","type":"quantitative"},"y":{"datum":749}}},
{"data":{"name":"s"},"transform":[{"filter":"datum.g=='h'"}],"mark":{"type":"rule","color":"#333","strokeWidth":1},"encoding":{"x":{"field":"t","type":"quantitative"}}}
]},
{"width": 168, "height": 68, "layer": [
{"data":{"name":"h"},"transform":[{"filter":"datum.g=='i'"}],"mark":{"type":"rect","fill":"#e6e6e6","stroke":"#111","strokeWidth":0.6},"encoding":{"x":{"field":"b","type":"quantitative","scale":{"domain":[-2140,2170],"nice":false,"zero":false},"axis":{"values":[-2000,-1000,0,1000,2000],"labelExpr":"datum.value==-1000?'':''+datum.value","title":"RDNBR"}},"x2":{"field":"e"},"y":{"field":"n","type":"quantitative","scale":{"domain":[-11,261],"nice":false,"zero":false},"axis":{"values":[0,100,250],"labelExpr":"''+datum.value","title":null}},"y2":{"datum":0}}},
{"data":{"name":"s"},"transform":[{"filter":"datum.g=='i'"}],"mark":{"type":"rule","color":"#111","strokeWidth":0.8},"encoding":{"x":{"field":"lo","type":"quantitative"},"x2":{"field":"hi"},"y":{"datum":0}}},
{"data":{"name":"s"},"transform":[{"filter":"datum.g=='i'"}],"mark":{"type":"rule","color":"#222","strokeWidth":0.8,"strokeDash":[3,2]},"encoding":{"x":{"field":"wlo","type":"quantitative"},"x2":{"field":"q1"},"y":{"datum":230}}},
{"data":{"name":"s"},"transform":[{"filter":"datum.g=='i'"}],"mark":{"type":"rule","color":"#222","strokeWidth":0.8,"strokeDash":[3,2]},"encoding":{"x":{"field":"q3","type":"quantitative"},"x2":{"field":"whi"},"y":{"datum":230}}},
{"data":{"name":"s"},"transform":[{"filter":"datum.g=='i'"},{"fold":["wlo","whi"],"as":["k","w"]}],"mark":{"type":"tick","orient":"vertical","size":5,"thickness":1,"color":"#111"},"encoding":{"x":{"field":"w","type":"quantitative"},"y":{"datum":230}}},
{"data":{"name":"o"},"transform":[{"filter":"datum.g=='i'"}],"mark":{"type":"point","shape":"circle","filled":false,"size":9,"strokeWidth":0.8,"color":"#000","opacity":1},"encoding":{"x":{"field":"x","type":"quantitative"},"y":{"datum":230}}},
{"data":{"name":"s"},"transform":[{"filter":"datum.g=='i'"}],"mark":{"type":"bar","size":4,"fill":"white","stroke":"#111","strokeWidth":0.8},"encoding":{"x":{"field":"q1","type":"quantitative"},"x2":{"field":"q3"},"y":{"datum":230}}},
{"data":{"name":"s"},"transform":[{"filter":"datum.g=='i'"}],"mark":{"type":"tick","orient":"vertical","size":4,"thickness":2,"color":"#000"},"encoding":{"x":{"field":"med","type":"quantitative"},"y":{"datum":230}}},
{"data":{"name":"s"},"transform":[{"filter":"datum.g=='i'"}],"mark":{"type":"rule","color":"#333","strokeWidth":1},"encoding":{"x":{"field":"t","type":"quantitative"}}}
]}
], "spacing": 60, "bounds": "flush"}
]
}
